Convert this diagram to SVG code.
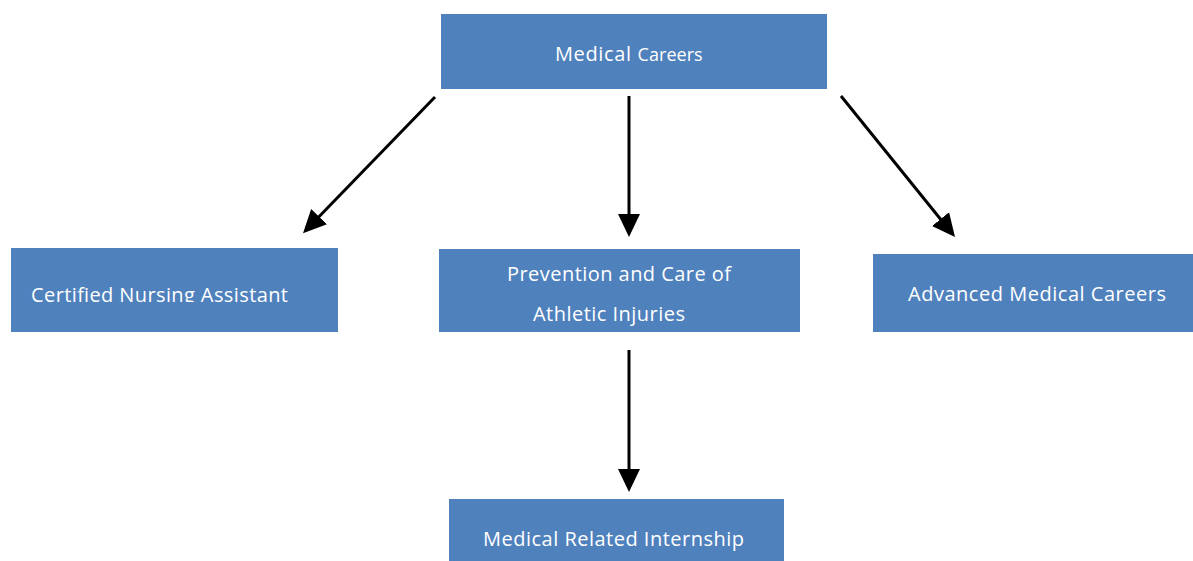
<svg xmlns="http://www.w3.org/2000/svg" width="1193" height="561" viewBox="0 0 1193 561">
<style>
.box{fill:#4F81BD;}
.t{fill:#ffffff;font-family:"Open Sans","Noto Sans","Liberation Sans",sans-serif;font-size:20px;}
.c{stroke:#000;stroke-width:3;fill:none;}
</style>
<defs>
<marker id="ah" markerUnits="userSpaceOnUse" markerWidth="24" markerHeight="24" viewBox="0 0 24 24" refX="13" refY="12" orient="auto">
<path d="M0,1 L23,12 L0,23 Z" fill="#000"/>
</marker>
<clipPath id="cl1"><rect x="11" y="248" width="327" height="54"/></clipPath>
</defs>
<rect width="1193" height="561" fill="#fff"/>
<g id="connectors">
<line class="c" x1="435" y1="97" x2="310" y2="226" marker-end="url(#ah)"/>
<line class="c" x1="629" y1="96" x2="629" y2="227" marker-end="url(#ah)"/>
<line class="c" x1="841" y1="96" x2="948.7" y2="229.2" marker-end="url(#ah)"/>
<line class="c" x1="629" y1="350" x2="629" y2="482" marker-end="url(#ah)"/>
</g>
<g id="medical-careers">
<rect class="box" x="441" y="14" width="386" height="75"/>
<text class="t" x="555" y="61"><tspan font-size="20" textLength="76">Medical</tspan><tspan font-size="18" dx="6" textLength="65">Careers</tspan></text>
</g>
<g id="cna">
<rect class="box" x="11" y="248" width="327" height="84"/>
<text class="t" x="31" y="302" textLength="257" clip-path="url(#cl1)">Certified Nursing Assistant</text>
</g>
<g id="prevention">
<rect class="box" x="439" y="249" width="361" height="83"/>
<text class="t" x="507" y="281" textLength="224">Prevention and Care of</text>
<text class="t" x="533" y="321" textLength="152">Athletic Injuries</text>
</g>
<g id="advanced">
<rect class="box" x="873" y="254" width="320" height="78"/>
<text class="t" x="908" y="301" textLength="258">Advanced Medical Careers</text>
</g>
<g id="internship">
<rect class="box" x="449" y="499" width="335" height="62"/>
<text class="t" x="483" y="546" textLength="261">Medical Related Internship</text>
</g>
</svg>
